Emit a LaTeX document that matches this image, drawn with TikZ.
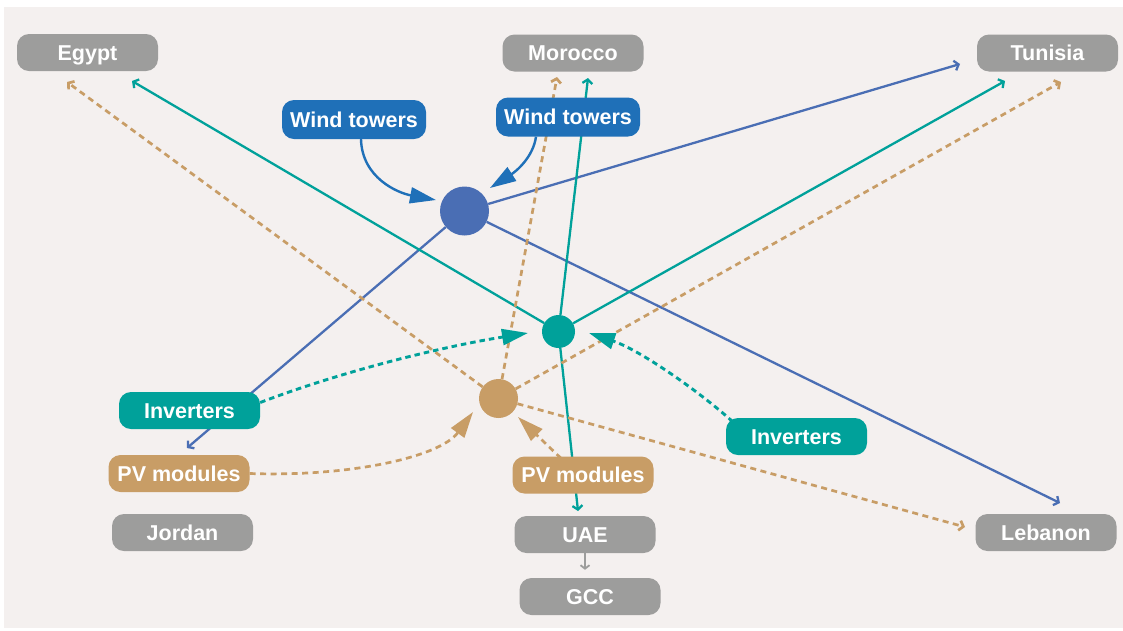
\documentclass[tikz,border=0pt]{standalone}
\usepackage{fontspec}
\setmainfont{Liberation Sans}
\usetikzlibrary{arrows.meta,calc}
\definecolor{bgc}{HTML}{F4F0EF}
\definecolor{grayc}{HTML}{9D9D9C}
\definecolor{bluebox}{HTML}{1F70B8}
\definecolor{bluec}{HTML}{4A6EB4}
\definecolor{tealc}{HTML}{00A19A}
\definecolor{tanc}{HTML}{C89D66}
\pgfdeclarelayer{back}
\pgfdeclarelayer{edges}
\pgfsetlayers{back,edges,main}
\begin{document}
\begin{tikzpicture}[x=1pt,y=-1pt,
  box/.style={rounded corners=12pt, minimum width=141pt, minimum height=37pt, inner sep=0pt,
    text=white, font=\fontsize{21.5}{24}\selectfont\bfseries, text height=15pt, text depth=0pt},
  country/.style={box, fill=grayc},
  windbox/.style={box, fill=bluebox, minimum width=144pt, minimum height=39pt},
  invbox/.style={box, fill=tealc},
  pvbox/.style={box, fill=tanc},
  hub/.style={circle, inner sep=0pt},
  barb/.style={-{Straight Barb[length=4pt,width=10pt]}},
  bigtip/.style={-{Triangle[length=26pt,width=16pt]}},
  blueline/.style={draw=bluec, line width=2.3pt, barb},
  tealline/.style={draw=tealc, line width=2.3pt, barb},
  tanline/.style={draw=tanc, line width=2.7pt, dash pattern=on 6pt off 4.5pt, barb},
  windarrow/.style={draw=bluebox, line width=2.4pt, bigtip},
  invarrow/.style={draw=tealc, line width=2.9pt, dash pattern=on 5.5pt off 4pt, bigtip},
  pvarrow/.style={draw=tanc, line width=2.7pt, dash pattern=on 6pt off 4.5pt, bigtip},
  grayarrow/.style={draw=grayc, line width=1.8pt, -{Straight Barb[length=3.5pt,width=9pt]}}
]
\useasboundingbox (0,0) rectangle (1123,630);
\begin{pgfonlayer}{back}
  \fill[white] (0,0) rectangle (1123,630);
  \fill[bgc] (4,7) rectangle (1123,628);
\end{pgfonlayer}

% country boxes
\node[country] (egypt) at (87.5,52.5) {Egypt};
\node[country] (morocco) at (573,53) {Morocco};
\node[country] (tunisia) at (1047.5,53) {Tunisia};
\node[country] (jordan) at (182.5,532.5) {Jordan};
\node[country] (uae) at (585,534.5) {UAE};
\node[country] (gcc) at (590,596.5) {GCC};
\node[country] (lebanon) at (1046,532.5) {Lebanon};

% product boxes
\node[windbox] (wt1) at (354,119.5) {Wind towers};
\node[windbox] (wt2) at (568,117) {Wind towers};
\node[invbox] (invL) at (189.5,410.5) {Inverters};
\node[invbox] (invR) at (796.5,436.5) {Inverters};
\node[pvbox] (pvL) at (179,473.5) {PV modules};
\node[pvbox] (pvC) at (583,475) {PV modules};

% hubs
\node[hub, fill=bluec, minimum size=49pt] (bhub) at (464.5,211) {};
\node[hub, fill=tealc, minimum size=33pt] (thub) at (558.5,331.5) {};
\node[hub, fill=tanc, minimum size=39pt] (nhub) at (498.5,398.5) {};

% free ends
\coordinate (bT) at (960,64);
\coordinate (bL) at (1060,503);
\coordinate (bP) at (187,448);
\coordinate (tE) at (132,81);
\coordinate (tM) at (588,78);
\coordinate (tT) at (1005,81);
\coordinate (tU) at (578,511);
\coordinate (nE) at (67,82);
\coordinate (nM) at (557,77);
\coordinate (nT) at (1061,82);
\coordinate (nL) at (965,527);
\coordinate (w1tip) at (436,200);
\coordinate (w2tip) at (490,188);
\coordinate (iLtip) at (528,333);
\coordinate (iRtip) at (589,333);
\coordinate (pLtip) at (473,412);
\coordinate (pCtip) at (518,417);

\begin{pgfonlayer}{edges}
  % blue
  \draw[blueline] (bhub) -- (bT);
  \draw[blueline] (bhub) -- (bL);
  \draw[blueline] (bhub) -- (bP);
  % teal
  \draw[tealline] (thub) -- (tE);
  \draw[tealline] (thub) -- (tM);
  \draw[tealline] (thub) -- (tT);
  \draw[tealline] (thub) -- (tU);
  % tan
  \draw[tanline] (nhub) -- (nE);
  \draw[tanline] (nhub) -- (nM);
  \draw[tanline] (nhub) -- (nT);
  \draw[tanline] (nhub) -- (nL);
  % product flows
  \draw[windarrow] ($(wt1.south)+(7,0)$) .. controls (362,178) and (398,193) .. (w1tip);
  \draw[windarrow] ($(wt2.south)+(-32,0)$) .. controls (533,158) and (515,172) .. (w2tip);
  \draw[invarrow] ($(invL.east)+(0,-8)$) .. controls (340,372) and (440,347) .. (iLtip);
  \draw[invarrow] ($(invR.north west)+(7,4)$) .. controls (700,392) and (640,350) .. (iRtip);
  \draw[pvarrow] (pvL.east) .. controls (350,477) and (440,457) .. (pLtip);
  \draw[pvarrow] ($(pvC.north)+(-22,2)$) -- (pCtip);
  \draw[grayarrow] (uae.south) -- ($(gcc.north)+(-5,-8)$);
\end{pgfonlayer}
\end{tikzpicture}
\end{document}
